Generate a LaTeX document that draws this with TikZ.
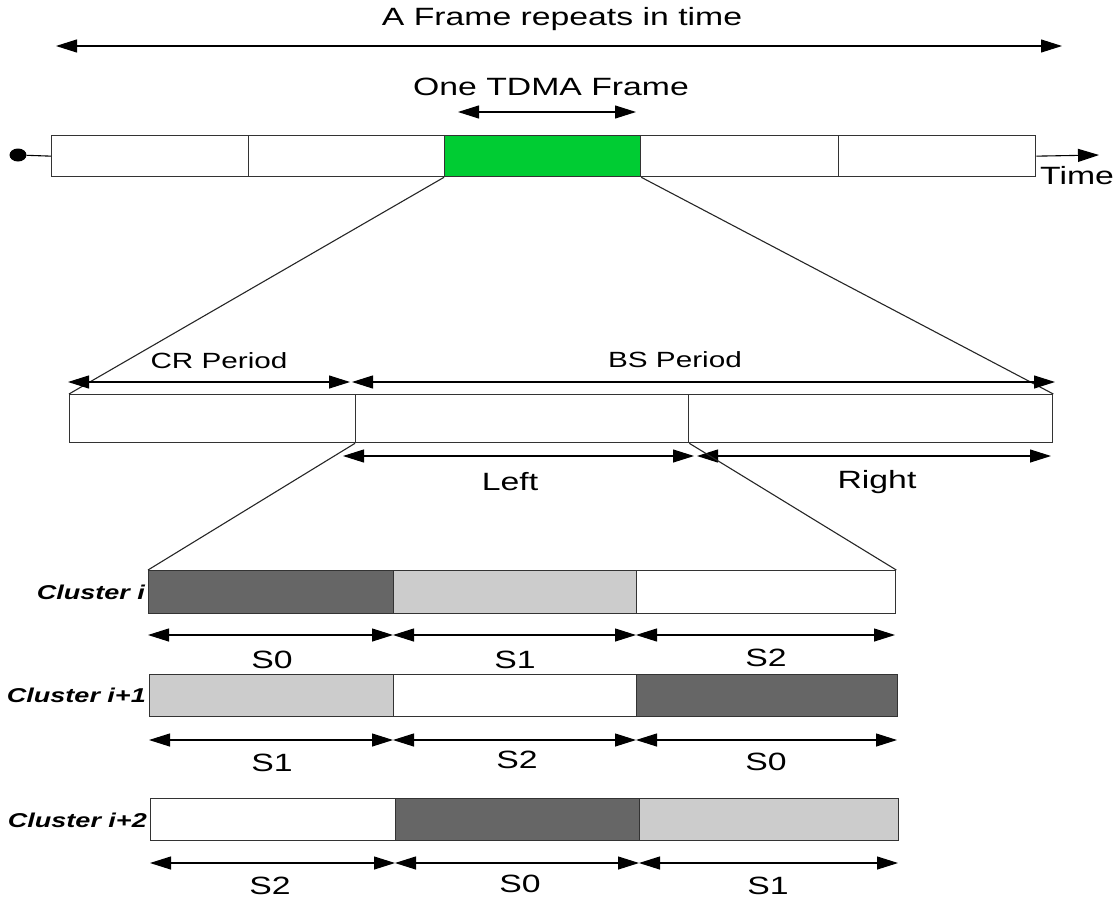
\documentclass[tikz,border=0pt]{standalone}
\usepackage{fontspec}
\setmainfont{Liberation Sans}[FakeStretch=1.35]
\usetikzlibrary{arrows.meta,shapes.geometric}
\definecolor{greenf}{HTML}{00CC33}
\definecolor{darkg}{HTML}{666666}
\definecolor{lightg}{HTML}{CCCCCC}
\tikzset{
  seg/.style={draw=black!80, line width=1.3pt, inner sep=0pt, anchor=north west},
  dimline/.style={line width=1.1pt, {Triangle[length=21pt,width=13pt]}-{Triangle[length=21pt,width=13pt]}},
  oneway/.style={line width=1.1pt, -{Triangle[length=21pt,width=13pt]}},
  zoomline/.style={line width=1.1pt, black!85},
  big/.style={font=\fontsize{25}{29}\selectfont, inner sep=0pt},
  mid/.style={font=\fontsize{22}{26}\selectfont, inner sep=0pt},
  clab/.style={font=\fontsize{20}{24}\selectfont\bfseries\itshape, inner sep=0pt, anchor=east},
}
\begin{document}
\begin{tikzpicture}[x=1pt,y=-1pt]
\useasboundingbox (0,0) rectangle (1118,902);
% top annotations
\node[big] (trep) at (562,19) {A Frame repeats in time};
\coordinate (repL) at (56,46); \coordinate (repR) at (1062,46);
\draw[dimline] (repL) -- (repR);
\node[big] (tone) at (551,87) {One TDMA Frame};
\coordinate (oneL) at (458,112); \coordinate (oneR) at (636,112);
\draw[dimline] (oneL) -- (oneR);
% top bar
\node[seg, minimum width=197pt, minimum height=41pt] (f1) at (51,135) {};
\node[seg, minimum width=196pt, minimum height=41pt] (f2) at (248,135) {};
\node[seg, fill=greenf, minimum width=196pt, minimum height=41pt] (f3) at (444,135) {};
\node[seg, minimum width=198pt, minimum height=41pt] (f4) at (640,135) {};
\node[seg, minimum width=197pt, minimum height=41pt] (f5) at (838,135) {};
\node[ellipse, fill=black, inner sep=0pt, minimum width=17pt, minimum height=13pt] (dot) at (18,155) {};
\draw[line width=1.1pt] (dot) -- (f1.west);
\coordinate (timeEnd) at (1099,155);
\draw[oneway] (f5.east) -- (timeEnd);
\node[big, anchor=north] (ttime) at (1077,166) {Time};
% second bar
\node[seg, minimum width=286pt, minimum height=48pt] (cr) at (69,394) {};
\node[seg, minimum width=333pt, minimum height=48pt] (bl) at (355,394) {};
\node[seg, minimum width=364pt, minimum height=48pt] (br) at (688,394) {};
\draw[zoomline] (f3.south west) -- (cr.north west);
\draw[zoomline] (f3.south east) -- (br.north east);
\node[mid] (tcr) at (219,361) {CR Period};
\node[mid] (tbs) at (675,360) {BS Period};
\coordinate (crL) at (68,382); \coordinate (crR) at (350,382);
\coordinate (bsL) at (352,382); \coordinate (bsR) at (1055,382);
\draw[dimline] (crL) -- (crR);
\draw[dimline] (bsL) -- (bsR);
\coordinate (lfL) at (343,456); \coordinate (lfR) at (694,456);
\coordinate (rtL) at (697,456); \coordinate (rtR) at (1051,456);
\draw[dimline] (lfL) -- (lfR);
\draw[dimline] (rtL) -- (rtR);
\node[big] (tleft) at (510,482) {Left};
\node[big] (tright) at (877,482) {Right};
% cluster i
\node[seg, fill=darkg, minimum width=245pt, minimum height=43pt] (a1) at (148,570) {};
\node[seg, fill=lightg, minimum width=243pt, minimum height=43pt] (a2) at (393,570) {};
\node[seg, fill=white, minimum width=259pt, minimum height=43pt] (a3) at (636,570) {};
\draw[zoomline] (bl.south west) -- (a1.north west);
\draw[zoomline] (bl.south east) -- (a3.north east);
\node[clab] (ci) at (145,592) {Cluster i};
\coordinate (a0) at (148,635); \coordinate (a1m) at (393,635); \coordinate (a2m) at (636,635); \coordinate (a3e) at (895,635);
\draw[dimline] (a0) -- (a1m);
\draw[dimline] (a1m) -- (a2m);
\draw[dimline] (a2m) -- (a3e);
\node[big] (sa1) at (272,660) {S0};
\node[big] (sa2) at (515,660) {S1};
\node[big] (sa3) at (766,658) {S2};
% cluster i+1
\node[seg, fill=lightg, minimum width=244pt, minimum height=42pt] (b1) at (149,674) {};
\node[seg, fill=white, minimum width=243pt, minimum height=42pt] (b2) at (393,674) {};
\node[seg, fill=darkg, minimum width=261pt, minimum height=42pt] (b3) at (636,674) {};
\node[clab] (cj) at (146,695) {Cluster i+1};
\coordinate (b0) at (149,740); \coordinate (b1m) at (393,740); \coordinate (b2m) at (636,740); \coordinate (b3e) at (897,740);
\draw[dimline] (b0) -- (b1m);
\draw[dimline] (b1m) -- (b2m);
\draw[dimline] (b2m) -- (b3e);
\node[big] (sb1) at (272,763) {S1};
\node[big] (sb2) at (517,760) {S2};
\node[big] (sb3) at (766,762) {S0};
% cluster i+2
\node[seg, fill=white, minimum width=245pt, minimum height=42pt] (c1) at (150,798) {};
\node[seg, fill=darkg, minimum width=244pt, minimum height=42pt] (c2) at (395,798) {};
\node[seg, fill=lightg, minimum width=259pt, minimum height=42pt] (c3) at (639,798) {};
\node[clab] (ck) at (147,820) {Cluster i+2};
\coordinate (c0) at (150,863); \coordinate (c1m) at (395,863); \coordinate (c2m) at (639,863); \coordinate (c3e) at (898,863);
\draw[dimline] (c0) -- (c1m);
\draw[dimline] (c1m) -- (c2m);
\draw[dimline] (c2m) -- (c3e);
\node[big] (sc1) at (270,886) {S2};
\node[big] (sc2) at (520,884) {S0};
\node[big] (sc3) at (768,886) {S1};
\end{tikzpicture}
\end{document}
